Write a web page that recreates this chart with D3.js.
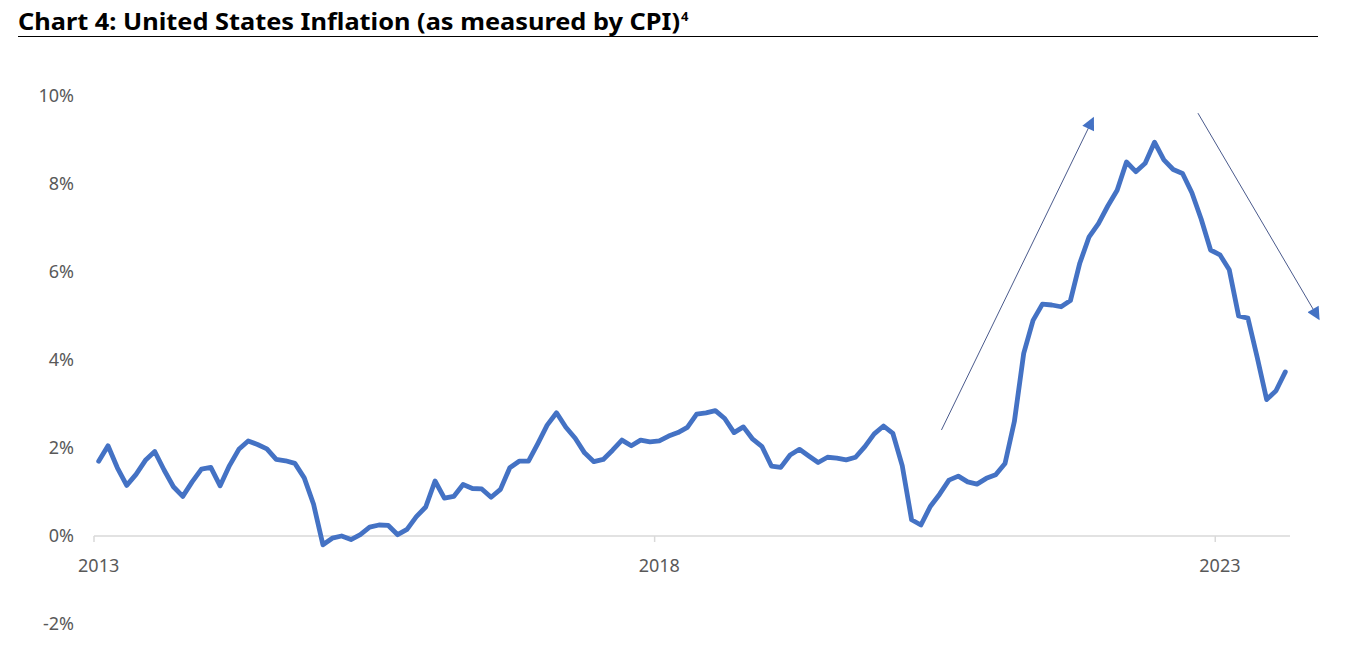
<!DOCTYPE html>
<html>
<head>
<meta charset="utf-8">
<script src="https://cdn.jsdelivr.net/npm/d3@7"></script>
<style>
  html, body { margin: 0; padding: 0; background: #ffffff; }
  svg { display: block; }
  .title { font-family: "Century Gothic", "URW Gothic", "Noto Sans", "DejaVu Sans", sans-serif; font-weight: bold; }
  .lbl { font-family: "Century Gothic", "URW Gothic", "Noto Sans", "DejaVu Sans", sans-serif; fill: #595959; }
</style>
</head>
<body>
<svg id="chart" width="1345" height="646"></svg>
<script>
// ---- data ----
const startYear = 2013;
const cpiValues = [
  // 2013
  1.7, 2.05, 1.55, 1.15, 1.4, 1.72, 1.92, 1.5, 1.12, 0.9, 1.23, 1.52,
  // 2014
  1.56, 1.14, 1.6, 1.97, 2.16, 2.08, 1.98, 1.74, 1.71, 1.65, 1.32, 0.72,
  // 2015
  -0.2, -0.05, 0.0, -0.08, 0.03, 0.2, 0.25, 0.24, 0.03, 0.15, 0.44, 0.66,
  // 2016
  1.25, 0.86, 0.9, 1.17, 1.08, 1.07, 0.88, 1.06, 1.55, 1.7, 1.7, 2.1,
  // 2017
  2.52, 2.8, 2.47, 2.22, 1.89, 1.69, 1.74, 1.95, 2.18, 2.05, 2.18, 2.14,
  // 2018
  2.16, 2.27, 2.35, 2.47, 2.77, 2.8, 2.85, 2.67, 2.35, 2.48, 2.2, 2.03,
  // 2019
  1.59, 1.56, 1.84, 1.97, 1.82, 1.67, 1.79, 1.77, 1.73, 1.79, 2.03, 2.32,
  // 2020
  2.5, 2.33, 1.6, 0.37, 0.25, 0.67, 0.95, 1.27, 1.36, 1.23, 1.18, 1.31,
  // 2021
  1.39, 1.65, 2.6, 4.15, 4.9, 5.27, 5.25, 5.21, 5.35, 6.2, 6.8, 7.1,
  // 2022
  7.5, 7.86, 8.5, 8.28, 8.47, 8.95, 8.55, 8.33, 8.24, 7.8, 7.2, 6.5,
  // 2023
  6.39, 6.05, 5.0, 4.95, 4.05, 3.1, 3.3, 3.73
];
const yTicks = [-2, 0, 2, 4, 6, 8, 10];
const xTickYears = [2013, 2018, 2023];
// annotation arrows in data space: [monthIndex, percent]
const arrowUp = [[90.2, 2.41], [106.45, 9.5]];
const arrowDown = [[117.65, 9.61], [130.6, 4.93]];
const titleText = "Chart 4: United States Inflation (as measured by CPI)";
const titleSup = "4";

// ---- layout ----
const svg = d3.select("#chart");
const plotLeft = 94, plotRight = 1290;
const n = cpiValues.length;
const x = d3.scaleBand().domain(d3.range(n)).range([plotLeft, plotRight]).paddingInner(0).paddingOuter(0);
const xc = i => x(0) + (i + 0.5) * x.bandwidth();
const y = d3.scaleLinear().domain([0, 10]).range([536, 96]);

// title
const t = svg.append("text").attr("class", "title").attr("x", 18).attr("y", 30)
  .attr("font-size", 23).attr("fill", "#000");
const tMain = t.append("tspan").text(titleText);
const mainW = tMain.node().getComputedTextLength();
tMain.attr("textLength", 662).attr("lengthAdjust", "spacingAndGlyphs");
t.append("tspan").attr("font-size", 13).attr("dy", -9).attr("dx", 1).text(titleSup);
svg.append("line").attr("x1", 18).attr("x2", 1318).attr("y1", 36.5).attr("y2", 36.5)
  .attr("stroke", "#000").attr("stroke-width", 1);

// y labels
svg.append("g").selectAll("text").data(yTicks).join("text")
  .attr("class", "lbl")
  .attr("x", 74).attr("y", d => y(d)).attr("dy", "0.35em")
  .attr("text-anchor", "end").attr("font-size", 18)
  .text(d => d + "%");

// x axis line
const axisG = svg.append("g");
axisG.append("line").attr("x1", plotLeft).attr("x2", plotRight)
  .attr("y1", y(0)).attr("y2", y(0)).attr("stroke", "#d9d9d9").attr("stroke-width", 1.5);
const tickIdx = xTickYears.map(yr => (yr - startYear) * 12);
axisG.selectAll("line.tk").data(tickIdx).join("line").attr("class", "tk")
  .attr("x1", d => x(d)).attr("x2", d => x(d))
  .attr("y1", y(0)).attr("y2", y(0) + 6)
  .attr("stroke", "#d9d9d9").attr("stroke-width", 1.5);
axisG.selectAll("text").data(xTickYears).join("text")
  .attr("class", "lbl")
  .attr("x", d => xc((d - startYear) * 12)).attr("y", 572)
  .attr("text-anchor", "middle").attr("font-size", 18)
  .text(d => d);

// line
const line = d3.line().x((d, i) => xc(i)).y(d => y(d)).curve(d3.curveLinear);
svg.append("path").datum(cpiValues).attr("d", line)
  .attr("fill", "none").attr("stroke", "#4472C4").attr("stroke-width", 4.8)
  .attr("stroke-linejoin", "round").attr("stroke-linecap", "round");

// arrows
const defs = svg.append("defs");
defs.append("marker").attr("id", "ah").attr("viewBox", "0 0 10 10")
  .attr("refX", 9).attr("refY", 5).attr("markerWidth", 15).attr("markerHeight", 13)
  .attr("markerUnits", "userSpaceOnUse").attr("orient", "auto")
  .append("path").attr("d", "M0,0 L10,5 L0,10 Z").attr("fill", "#4472C4");
[arrowUp, arrowDown].forEach(a => {
  svg.append("line")
    .attr("x1", xc(a[0][0])).attr("y1", y(a[0][1]))
    .attr("x2", xc(a[1][0])).attr("y2", y(a[1][1]))
    .attr("stroke", "#4a5a8c").attr("stroke-width", 1)
    .attr("marker-end", "url(#ah)");
});
</script>
</body>
</html>
